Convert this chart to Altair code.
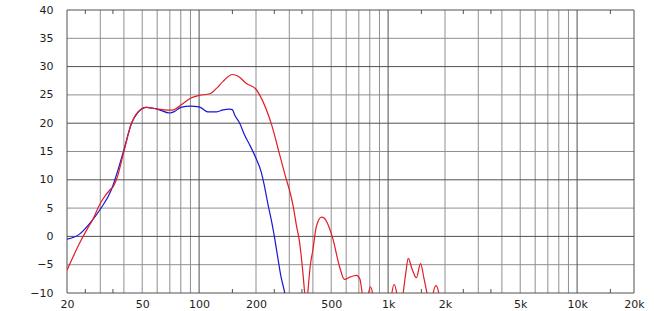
import altair as alt
import pandas as pd

# ---- data ----
blue_freq = [20, 23.3, 26.4, 30, 34.3, 37.2, 40, 43.9, 47.5, 52.6, 60, 70, 74, 80, 90, 100,
             111, 124, 134, 145, 150, 154, 164, 174, 185, 200, 213, 220, 232, 242, 251, 261, 270, 283, 286]
blue_db = [-0.5, 0.4, 2.3, 4.8, 8.2, 11.7, 15.3, 20.0, 21.9, 22.8, 22.5, 21.8, 22.05, 22.8, 23.0, 22.9,
           22.0, 22.0, 22.35, 22.5, 22.4, 21.5, 20.0, 17.9, 16.2, 13.8, 11.4, 9.4, 5.5, 2.6, -0.3, -3.8, -6.8, -9.8, -10.6]

red_freq = [20, 23.3, 25.8, 27, 30, 31, 33.7, 35.1, 36.5, 40, 43.9, 47.5, 52.6, 60, 70, 74, 80, 90, 100,
            114, 124, 134, 150, 161, 178, 200, 209, 242, 267, 288, 300, 314, 327, 340, 355, 363, 370, 377,
            388, 400, 417, 444, 460, 490, 510, 554, 588, 626, 680, 708, 733, 760, 785, 806, 830, 850,
            1030, 1045, 1078, 1115, 1150, 1195, 1240, 1278, 1340, 1412, 1484, 1550, 1617, 1680,
            1725, 1790, 1860, 1900, 1950]
red_db = [-6.0, -1.2, 1.5, 2.6, 5.8, 6.6, 8.2, 8.8, 10.0, 15.0, 20.0, 22.0, 22.8, 22.5, 22.3, 22.4, 23.2, 24.4, 24.9,
          25.2, 26.2, 27.4, 28.6, 28.3, 27.0, 26.0, 25.0, 19.7, 14.4, 10.3, 8.3, 5.5, 2.0, -1.0, -6.8, -10.5, -13.0, -9.5,
          -5.0, -2.4, 1.7, 3.4, 3.2, 1.4, -0.4, -5.4, -7.6, -7.2, -6.9, -7.5, -10.5, -13.0, -10.3, -8.9, -10.3, -13.0,
          -13.0, -10.3, -8.5, -10.3, -13.0, -10.5, -6.5, -3.9, -5.8, -7.3, -4.8, -7.5, -10.5, -13.0,
          -10.3, -8.7, -10.3, -13.0, -14.0]

x_labels = [20, 50, 100, 200, 500, 1000, 2000, 5000, 10000, 20000]
y_labels = [-10, -5, 0, 5, 10, 15, 20, 25, 30, 35, 40]

x_grid_minor = [30, 40, 50, 60, 70, 80, 90, 200, 300, 400, 500, 600, 700, 800, 900,
                2000, 3000, 4000, 5000, 6000, 7000, 8000, 9000]
x_grid_major = [100, 1000, 10000]
y_grid_minor = [-5, 5, 15, 25, 35]
y_grid_major = [0, 10, 20, 30]
x_border = [20, 20000]
y_border = [-10, 40]
x_minor_ticks = [25, 35, 150, 250, 350, 1500, 2500, 3500, 15000]

W, H = 567, 283
FONT = "DejaVu Sans"
MINOR = "#8f8f8f"
MAJOR = "#505050"

xscale = alt.Scale(type="log", domain=[20, 20000])
yscale = alt.Scale(domain=[-10, 40])

curves = pd.concat([
    pd.DataFrame({"f": blue_freq, "db": blue_db, "s": "blue"}),
    pd.DataFrame({"f": red_freq, "db": red_db, "s": "red"}),
])


def vrules(vals, color):
    return alt.Chart(pd.DataFrame({"f": vals})).mark_rule(color=color, strokeWidth=1).encode(
        x=alt.X("f:Q", scale=xscale, axis=None))


def hrules(vals, color):
    return alt.Chart(pd.DataFrame({"db": vals})).mark_rule(color=color, strokeWidth=1).encode(
        y=alt.Y("db:Q", scale=yscale, axis=None))


ticks_df = pd.DataFrame({"f": x_minor_ticks})
top_ticks = alt.Chart(ticks_df).mark_rule(color=MAJOR).encode(
    x=alt.X("f:Q", scale=xscale, axis=None), y=alt.value(0), y2=alt.value(4))
bottom_ticks = alt.Chart(ticks_df).mark_rule(color=MAJOR).encode(
    x=alt.X("f:Q", scale=xscale, axis=None), y=alt.value(H - 4), y2=alt.value(H))

lines = alt.Chart(curves).mark_line(strokeWidth=1.2, clip=True, interpolate="monotone").encode(
    x=alt.X("f:Q", scale=xscale, axis=alt.Axis(
        values=x_labels, title=None, grid=False, ticks=False, tickSize=0, domain=False,
        labelExpr="datum.value >= 1000 ? (datum.value / 1000) + 'k' : '' + datum.value",
        labelFlush=False, labelOverlap=False, labelPadding=5, labelFont=FONT,
        labelFontSize=11, labelColor="#1e1e1e")),
    y=alt.Y("db:Q", scale=yscale, axis=alt.Axis(
        values=y_labels, title=None, grid=False, ticks=False, tickSize=0, domain=False,
        labelPadding=14, labelFont=FONT, labelFontSize=11, labelColor="#1e1e1e",
        labelFlush=False, labelOverlap=False)),
    color=alt.Color("s:N", scale=alt.Scale(domain=["blue", "red"], range=["#1717d6", "#e31b24"]),
                    legend=None),
    detail="s:N",
)

chart = alt.layer(
    vrules(x_grid_minor, MINOR),
    hrules(y_grid_minor, MINOR),
    vrules(x_grid_major, MAJOR),
    hrules(y_grid_major, MAJOR),
    vrules(x_border, MAJOR),
    hrules(y_border, MAJOR),
    top_ticks,
    bottom_ticks,
    lines,
).resolve_axis(x="independent", y="independent").properties(
    width=W, height=H,
    padding={"left": 67, "top": 10, "right": 20, "bottom": 18},
    autosize=alt.AutoSizeParams(type="none"),
    background="white",
).configure_view(stroke=None)

chart.save("out.html", embed_options={"renderer": "svg", "actions": False})
